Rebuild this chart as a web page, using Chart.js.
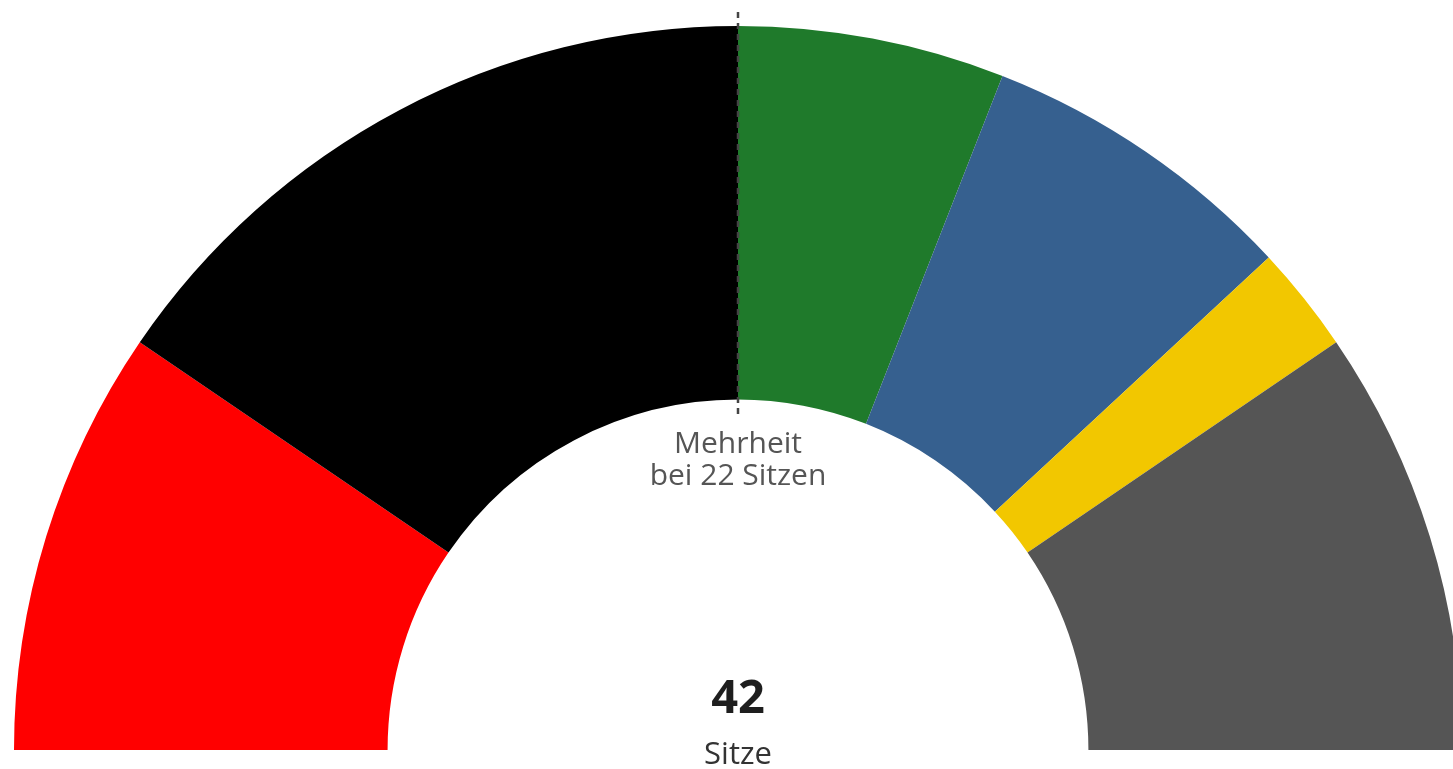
<!DOCTYPE html>
<html>
<head>
<meta charset="utf-8">
<script src="https://cdn.jsdelivr.net/npm/chart.js@4"></script>
<style>
  html, body { margin: 0; padding: 0; background: #fff; overflow: hidden; }
  #wrap { width: 1480px; height: 769px; position: relative; }
</style>
</head>
<body>
<div id="wrap"><canvas id="c" width="1480" height="769"></canvas></div>
<script>
const parties = ['SPD', 'CDU', 'GRÜNE', 'AfD', 'FDP', 'Sonstige'];
const seats = [8, 13, 5, 6, 2, 8];
const colors = ['#ff0000', '#000000', '#1f7a2b', '#36608f', '#f2c700', '#555555'];
const totalSeats = 42;
const majoritySeats = 22;
const majorityLines = ['Mehrheit', 'bei ' + majoritySeats + ' Sitzen'];
const totalLabel = 'Sitze';

const overlay = {
  id: 'overlay',
  afterDraw(chart) {
    const arc = chart.getDatasetMeta(0).data[0];
    const cx = arc.x, cy = arc.y, R = arc.outerRadius, r = arc.innerRadius;
    const ctx = chart.ctx;
    ctx.save();
    // majority line
    ctx.strokeStyle = '#444';
    ctx.lineWidth = 2.5;
    ctx.setLineDash([6, 5]);
    ctx.beginPath();
    ctx.moveTo(cx, cy - R - 14);
    ctx.lineTo(cx, cy - r + 18);
    ctx.stroke();
    ctx.setLineDash([]);
    ctx.textAlign = 'center';
    ctx.textBaseline = 'alphabetic';
    ctx.fillStyle = '#555';
    ctx.font = '30px "Open Sans", "Noto Sans", sans-serif';
    ctx.fillText(majorityLines[0], cx, cy - r + 53);
    ctx.fillText(majorityLines[1], cx, cy - r + 85);
    ctx.fillStyle = '#1e1e1e';
    ctx.font = 'bold 47px "Open Sans", "Noto Sans", sans-serif';
    ctx.fillText(String(totalSeats), cx, cy - 37);
    ctx.fillStyle = '#333';
    ctx.font = '31px "Open Sans", "Noto Sans", sans-serif';
    ctx.fillText(totalLabel, cx, cy + 14);
    ctx.restore();
  }
};

new Chart(document.getElementById('c'), {
  type: 'doughnut',
  data: {
    labels: parties,
    datasets: [{
      data: seats,
      backgroundColor: colors,
      borderWidth: 0,
      hoverOffset: 0
    }]
  },
  options: {
    responsive: false,
    animation: false,
    rotation: -90,
    circumference: 180,
    cutout: '48.4%',
    layout: { padding: { left: 14, right: 18, top: 26, bottom: 19 } },
    plugins: { legend: { display: false }, tooltip: { enabled: false } }
  },
  plugins: [overlay]
});
</script>
</body>
</html>
